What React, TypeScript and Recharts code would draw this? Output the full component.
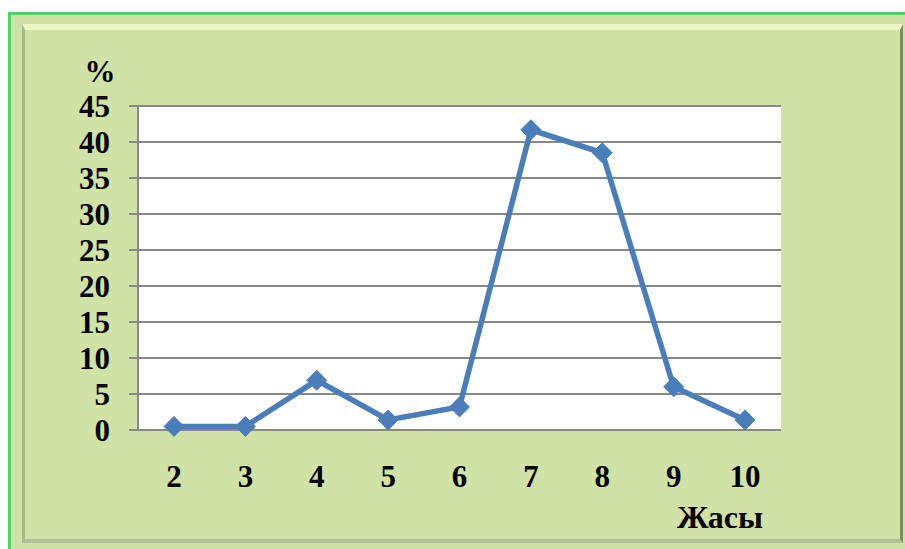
import React from 'react';
import { LineChart, Line, XAxis, YAxis, CartesianGrid } from 'recharts';

const ages = ['2', '3', '4', '5', '6', '7', '8', '9', '10'];
const percents = [0.5, 0.5, 6.9, 1.4, 3.2, 41.7, 38.5, 6.0, 1.4];
const yTicks = [0, 5, 10, 15, 20, 25, 30, 35, 40, 45];
const yUnit = '%';
const xTitle = 'Жасы';

const data = ages.map((a, i) => ({ age: a, value: percents[i] }));

const FONT = '"Liberation Serif", "Times New Roman", serif';

const Diamond = (props: any) => {
  const { cx, cy, index } = props;
  if (cx == null || cy == null) return null;
  const r = 10;
  return (
    <path
      key={`d-${index}`}
      d={`M${cx},${cy - r} L${cx + r},${cy} L${cx},${cy + r} L${cx - r},${cy} Z`}
      fill="#4a7ebb"
      stroke="#4a7ebb"
      strokeWidth={1}
    />
  );
};

export default function App() {
  return (
    <div style={{ position: 'absolute', left: 0, top: 0, width: 905, height: 549, background: '#ffffff', overflow: 'hidden' }}>
      <div
        style={{
          position: 'absolute', left: 8, top: 12, width: 910, height: 550,
          background: '#d1e2a7', borderLeft: '3px solid #55cf63', borderTop: '3px solid #55cf63', boxSizing: 'border-box',
        }}
      />
      <div
        style={{
          position: 'absolute', left: 22, top: 24, width: 881, height: 519,
          borderTop: '6px solid #eef6c6', borderLeft: '3px solid #a9b78b', borderRight: '3px solid #7f8a6a',
          borderBottom: '4px solid #b4c197', boxSizing: 'border-box',
        }}
      />
      <div style={{ position: 'absolute', left: 0, top: 0 }}>
        <LineChart width={905} height={549} data={data} margin={{ top: 106, right: 124, bottom: 0, left: 0 }}>
          <CartesianGrid vertical={false} fill="#ffffff" stroke="#898989" strokeWidth={2} />
          <XAxis
            dataKey="age"
            height={119}
            padding={{ left: 36, right: 36 }}
            axisLine={{ stroke: '#898989', strokeWidth: 2 }}
            tickLine={false}
            tickSize={0}
            tickMargin={35}
            tick={{ fill: '#000', fontFamily: FONT, fontWeight: 'bold', fontSize: 31 }}
            interval={0}
          />
          <YAxis
            width={138}
            domain={[0, 45]}
            ticks={yTicks}
            interval={0}
            axisLine={{ stroke: '#898989', strokeWidth: 2 }}
            tickLine={{ stroke: '#898989', strokeWidth: 2 }}
            tickSize={9}
            tickMargin={19}
            tick={{ fill: '#000', fontFamily: FONT, fontWeight: 'bold', fontSize: 31 }}
          />
          <Line
            type="linear"
            dataKey="value"
            stroke="#4a7ebb"
            strokeWidth={5.5}
            dot={<Diamond />}
            activeDot={false}
            isAnimationActive={false}
          />
        </LineChart>
      </div>
      <div style={{ position: 'absolute', left: 70, top: 52, width: 60, textAlign: 'center', fontFamily: FONT, fontWeight: 'bold', fontSize: 31, lineHeight: '40px', color: '#000' }}>
        {yUnit}
      </div>
      <div style={{ position: 'absolute', left: 660, top: 497, width: 120, textAlign: 'center', fontFamily: FONT, fontWeight: 'bold', fontSize: 32, lineHeight: '40px', color: '#000' }}>
        {xTitle}
      </div>
    </div>
  );
}
